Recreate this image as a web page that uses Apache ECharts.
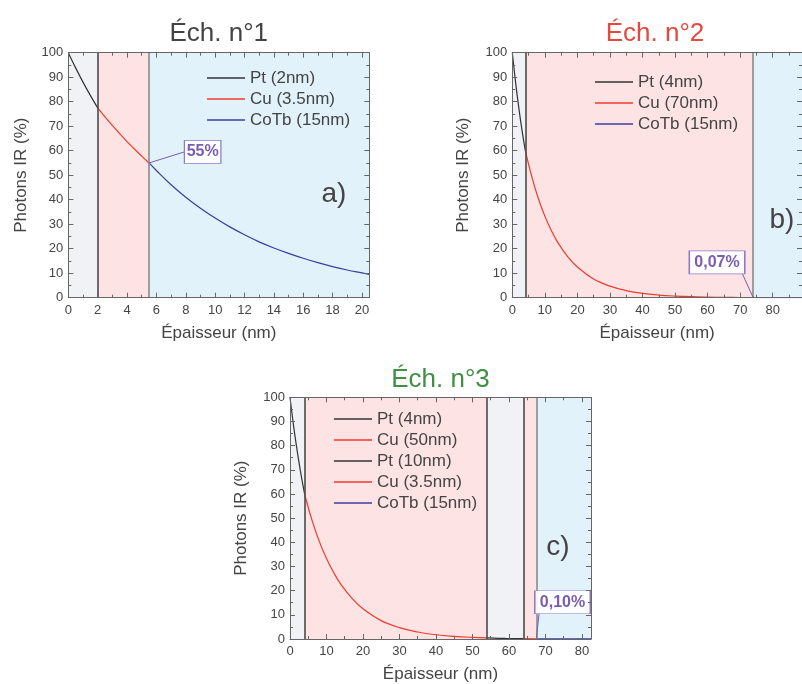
<!DOCTYPE html>
<html>
<head>
<meta charset="utf-8">
<script src="https://cdn.jsdelivr.net/npm/echarts@6/dist/echarts.min.js"></script>
<style>
html,body{margin:0;padding:0;background:#fff;}
#chart{width:802px;height:684px;}
</style>
</head>
<body>
<div id="chart"></div>
<script>
// ---------- DATA ----------
const titles = ['Éch. n°1', 'Éch. n°2', 'Éch. n°3'];
const panelLetters = ['a)', 'b)', 'c)'];
const xAxisName = 'Épaisseur (nm)';
const yAxisName = 'Photons IR (%)';

// layer boundaries (nm) and layer materials
const bounds1 = [0, 2, 5.5, 20.5];
const layers1 = ['Pt', 'Cu', 'CoTb'];
const names1 = ['Pt (2nm)', 'Cu (3.5nm)', 'CoTb (15nm)'];

const bounds2 = [0, 4, 74, 89];
const layers2 = ['Pt', 'Cu', 'CoTb'];
const names2 = ['Pt (4nm)', 'Cu (70nm)', 'CoTb (15nm)'];

const bounds3 = [0, 4, 54, 64, 67.5, 82.5];
const layers3 = ['Pt', 'Cu', 'Pt', 'Cu', 'CoTb'];
const names3 = ['Pt (4nm)', 'Cu (50nm)', 'Pt (10nm)', 'Cu (3.5nm)', 'CoTb (15nm)'];

// x tick intervals
const xInterval1 = 2, xInterval2 = 10, xInterval3 = 10;
const yInterval = 10;

// chart 1 curves [thickness, photons %]
const c1_pt = [[0,100],[0.5,93.8],[1,88],[1.5,82.6],[2,77.5]];
const c1_cu = [[2,77.5],[3,70.3],[4,63.7],[5,57.8],[5.5,55]];
const c1_cotb = [[5.5,55],[6,51.9],[7,46.1],[8,41],[9,36.5],[10,32.5],[11,28.9],[12,25.7],[13,22.8],[14,20.3],[15,18.1],[16,16.1],[17,14.3],[18,12.7],[19,11.3],[20,10.1],[20.5,9.5]];

// chart 2 curves
const c2_pt = [[0,100],[1,88],[2,77.5],[3,68.2],[4,60]];
const c2_cu = [[4,60],[6,49.3],[8,40.5],[10,33.3],[12,27.4],[14,22.5],[17,16.8],[20,12.5],[25,7.6],[30,4.7],[35,2.9],[40,1.75],[45,1.07],[50,0.66],[55,0.4],[60,0.25],[65,0.15],[70,0.09],[74,0.07]];
const c2_cotb = [[74,0.07],[79,0.04],[84,0.02],[89,0.012]];

// chart 3 curves
const c3_pt1 = [[0,100],[1,88],[2,77.5],[3,68.2],[4,60]];
const c3_cu1 = [[4,60],[6,49.3],[8,40.5],[10,33.3],[12,27.4],[14,22.5],[17,16.8],[20,12.5],[25,7.6],[30,4.7],[35,2.9],[40,1.75],[45,1.07],[50,0.66],[54,0.45]];
const c3_pt2 = [[54,0.45],[59,0.24],[64,0.13]];
const c3_cu2 = [[64,0.13],[67.5,0.1]];
const c3_cotb = [[67.5,0.1],[72,0.06],[77,0.03],[82.5,0.017]];

// annotations: label text, anchor point, box centre, leader end (data coords)
const annot1 = {text: '55%', from: [5.5, 55], to: [7.9, 59.5], box: [9.15, 59.5]};
const annot2 = {text: '0,07%', from: [74, 0], to: [70.6, 10], box: [62.9, 14.4]};
const annot3 = {text: '0,10%', from: [67.5, 0], to: [68.3, 10.9], box: [74.7, 15.2]};

// ---------- STYLE ----------
const FONT = 'Liberation Sans, Arial, Helvetica, sans-serif';
const lineColor = {Pt: '#333333', Cu: '#ef3b2c', CoTb: '#3d3d9f'};
const bandColor = {Pt: '#f0f2f5', Cu: '#fde3e4', CoTb: '#e1f2fb'};
const purple = '#7a5cb3';
const frameColor = '#666666';
const textColor = '#444444';

const grids = [
  {left: 68.3, top: 52.7, width: 301, height: 245},
  {left: 512.3, top: 52.7, width: 301, height: 245},
  {left: 290, top: 397.3, width: 301, height: 244.4}
];
const xMax = [bounds1[bounds1.length-1], bounds2[bounds2.length-1], bounds3[bounds3.length-1]];
const xInt = [xInterval1, xInterval2, xInterval3];
const yNameGap = [38, 40, 40];

const xAxes = [], yAxes = [];
for (let i = 0; i < 3; i++) {
  const common = {
    type: 'value', gridIndex: i, min: 0, max: xMax[i], interval: xInt[i], z: 10,
    axisLine: {show: true, onZero: false, lineStyle: {color: frameColor, width: 1}},
    axisTick: {show: true, inside: true, length: 5, lineStyle: {color: frameColor}},
    minorTick: {show: true, splitNumber: 2, length: 3, lineStyle: {color: frameColor}},
    splitLine: {show: false}
  };
  xAxes.push(Object.assign({}, common, {
    position: 'bottom',
    name: xAxisName, nameLocation: 'middle', nameGap: 27,
    nameTextStyle: {fontSize: 17, color: textColor, fontFamily: FONT, verticalAlign: 'top'},
    axisLabel: {show: true, fontSize: 13, color: textColor, fontFamily: FONT, margin: 6, showMaxLabel: false}
  }));
  xAxes.push(Object.assign({}, common, {position: 'top', axisLabel: {show: false}}));
  const ycommon = {
    type: 'value', gridIndex: i, min: 0, max: 100, interval: yInterval, z: 10,
    axisLine: {show: true, onZero: false, lineStyle: {color: frameColor, width: 1}},
    axisTick: {show: true, inside: true, length: 5, lineStyle: {color: frameColor}},
    minorTick: {show: true, splitNumber: 2, length: 3, lineStyle: {color: frameColor}},
    splitLine: {show: false}
  };
  yAxes.push(Object.assign({}, ycommon, {
    position: 'left',
    name: yAxisName, nameLocation: 'middle', nameGap: yNameGap[i], nameRotate: 90,
    nameTextStyle: {fontSize: 17, color: textColor, fontFamily: FONT},
    axisLabel: {show: true, fontSize: 13, color: textColor, fontFamily: FONT, margin: 5}
  }));
  yAxes.push(Object.assign({}, ycommon, {position: 'right', axisLabel: {show: false}}));
}

function makeSeries(chartIdx, name, layer, data, x0, x1, boundaryRight, boundaryColor, annot) {
  const s = {
    type: 'line', name: name, data: data,
    xAxisIndex: chartIdx * 2, yAxisIndex: chartIdx * 2,
    showSymbol: false, symbol: 'none', smooth: 0.4,
    lineStyle: {color: lineColor[layer], width: 1.2},
    itemStyle: {color: lineColor[layer]},
    z: 3, silent: true,
    markArea: {
      silent: true,
      itemStyle: {color: bandColor[layer]},
      data: [[{xAxis: x0}, {xAxis: x1}]]
    }
  };
  const mlData = [];
  if (boundaryRight !== null) {
    mlData.push({xAxis: boundaryRight, lineStyle: {color: boundaryColor, width: 1.6, type: 'solid'}});
  }
  if (annot) {
    mlData.push([{coord: annot.from, lineStyle: {color: purple, width: 1, type: 'solid'}}, {coord: annot.to}]);
    s.markPoint = {
      silent: true,
      data: [{
        coord: annot.box, symbol: 'rect',
        symbolSize: [annot.text.length * 9.5 + 8, 23],
        itemStyle: {color: 'rgba(255,255,255,0.9)', borderColor: '#8e79c6', borderWidth: 1},
        label: {show: true, formatter: annot.text, color: purple, fontSize: 16, fontWeight: 'bold', fontFamily: FONT, position: 'inside'}
      }]
    };
  }
  if (mlData.length) {
    s.markLine = {silent: true, symbol: ['none', 'none'], label: {show: false}, data: mlData, animation: false};
  }
  return s;
}

const series = [];
function buildChart(idx, bounds, layers, names, datas, annot) {
  for (let k = 0; k < layers.length; k++) {
    const last = k === layers.length - 1;
    const nextLayer = last ? null : layers[k + 1];
    const bColor = nextLayer === 'CoTb' ? '#8a8a8a' : '#4a4a4a';
    series.push(makeSeries(idx, names[k], layers[k], datas[k], bounds[k], bounds[k + 1],
      last ? null : bounds[k + 1], bColor, last ? annot : null));
  }
}
buildChart(0, bounds1, layers1, names1, [c1_pt, c1_cu, c1_cotb], annot1);
buildChart(1, bounds2, layers2, names2, [c2_pt, c2_cu, c2_cotb], annot2);
buildChart(2, bounds3, layers3, names3, [c3_pt1, c3_cu1, c3_pt2, c3_cu2, c3_cotb], annot3);

const titleColors = ['#444444', '#e8473e', '#3f8f45'];
const titleCenters = [218.8, 655, 440.5];
const titleTops = [21, 21, 367];
const letterPos = [[334, 180], [782, 206], [558, 533]];

const titleComps = [];
for (let i = 0; i < 3; i++) {
  titleComps.push({
    text: titles[i], left: titleCenters[i], top: titleTops[i], textAlign: 'center', padding: 0,
    textStyle: {fontSize: 26, fontWeight: 'normal', color: titleColors[i], fontFamily: FONT}
  });
  titleComps.push({
    text: panelLetters[i], left: letterPos[i][0], top: letterPos[i][1], textAlign: 'center', padding: 0,
    textStyle: {fontSize: 28, fontWeight: 'normal', color: '#444444', fontFamily: FONT}
  });
}

const legendCommon = {
  orient: 'vertical', itemWidth: 38, itemHeight: 1.3, itemGap: 4, padding: 0,
  selectedMode: false, icon: 'rect',
  textStyle: {fontSize: 17, color: textColor, fontFamily: FONT, lineHeight: 17}
};
const legends = [
  Object.assign({}, legendCommon, {data: names1, left: 207, top: 69.5}),
  Object.assign({}, legendCommon, {data: names2, left: 595, top: 73.5}),
  Object.assign({}, legendCommon, {data: names3, left: 334, top: 410.5})
];

const chart = echarts.init(document.getElementById('chart'), null, {renderer: 'canvas'});
chart.setOption({
  animation: false,
  backgroundColor: '#ffffff',
  title: titleComps,
  legend: legends,
  grid: grids,
  xAxis: xAxes,
  yAxis: yAxes,
  series: series
});
</script>
</body>
</html>
